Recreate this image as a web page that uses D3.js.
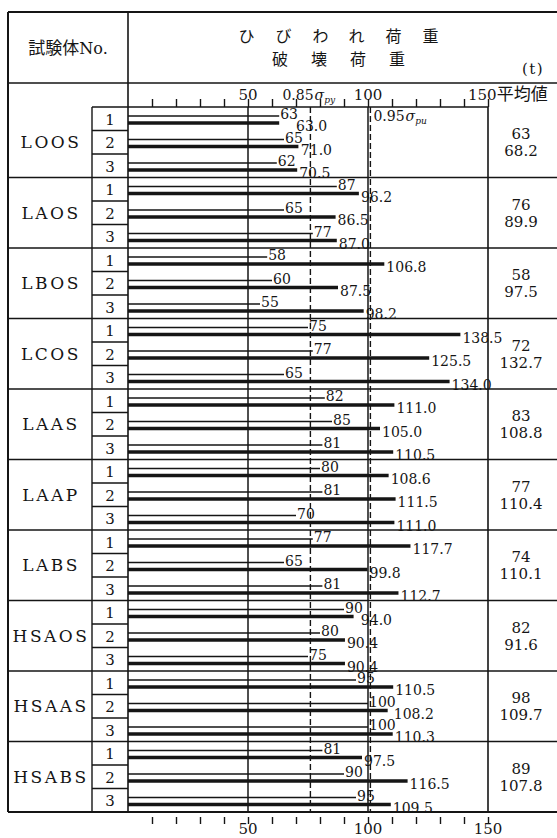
<!DOCTYPE html>
<html><head><meta charset="utf-8">
<script src="https://cdn.jsdelivr.net/npm/d3@7"></script>
<style>
html,body{margin:0;padding:0;background:#fff;}
svg{display:block;}
</style></head><body>
<svg id="chart" width="557" height="838"></svg>
<script>
// Specimens and the three test pieces of each
const specimens = ["LOOS","LAOS","LBOS","LCOS","LAAS","LAAP","LABS","HSAOS","HSAAS","HSABS"];
const testNos = ["1","2","3"];
// Cracking load (t), one value per test piece
const crackLoad = [
  [63, 65, 62], [87, 65, 77], [58, 60, 55], [75, 77, 65], [82, 85, 81],
  [80, 81, 70], [77, 65, 81], [90, 80, 75], [95, 100, 100], [81, 90, 95]
];
// Failure load (t)
const failLoad = [
  [63.0, 71.0, 70.5], [96.2, 86.5, 87.0], [106.8, 87.5, 98.2], [138.5, 125.5, 134.0],
  [111.0, 105.0, 110.5], [108.6, 111.5, 111.0], [117.7, 99.8, 112.7],
  [94.0, 90.4, 90.4], [110.5, 108.2, 110.3], [97.5, 116.5, 109.5]
];
// Mean values per specimen
const crackMean = [63, 76, 58, 72, 83, 77, 74, 82, 98, 89];
const failMean = [68.2, 89.9, 97.5, 132.7, 108.8, 110.4, 110.1, 91.6, 109.7, 107.8];
// Axis ticks and labels (t)
const tickValues = [10, 20, 30, 40, 50, 60, 70, 80, 90, 100, 110, 120, 130, 140, 150];
const tickLabels = [50, 100, 150];
// Solid guide lines and the two stress reference levels
const guideValues = [50, 100];
const refValues = [76, 101];
const refFactors = ["0.85", "0.95"];
const refSubs = ["py", "pu"];

const SERIF = '"DejaVu Serif", "Liberation Serif", serif';
const JP = '"Noto Sans CJK JP", sans-serif';
const INK = "#151515";

const L = 8, R = 557, colNo = 92, col0 = 128, colAvg = 488;
const topY = 12, headY = 83, plotTop = 107, plotBottom = 812;

const svg = d3.select("#chart");
const x = d3.scaleLinear().domain([0, 150]).range([col0, colAvg]);
const yG = d3.scaleBand().domain(specimens).range([plotTop, plotBottom]);
const yS = d3.scaleBand().domain(testNos).range([0, yG.bandwidth()]);

const g = svg.append("g");

function hline(x1, x2, y, w) {
  g.append("line").attr("x1", x1).attr("x2", x2).attr("y1", y).attr("y2", y)
    .attr("stroke", INK).attr("stroke-width", w || 1.5);
}
function vline(xx, y1, y2, w, dash) {
  const ln = g.append("line").attr("x1", xx).attr("x2", xx).attr("y1", y1).attr("y2", y2)
    .attr("stroke", INK).attr("stroke-width", w || 1.5);
  if (dash) ln.attr("stroke-dasharray", dash);
}

// ---- guide lines inside the plot
guideValues.forEach(v => vline(x(v), plotTop, plotBottom, 1.5));
refValues.forEach(v => vline(x(v), plotTop, plotBottom, 1.4, "6,3"));

// ---- bars: thin = cracking load, thick = failure load
specimens.forEach((s, i) => {
  testNos.forEach((n, j) => {
    const y0 = yG(s) + yS(n);
    const yThin = y0 + 9, yThick = y0 + 16;
    g.append("line").attr("x1", x(0)).attr("x2", x(crackLoad[i][j]))
      .attr("y1", yThin).attr("y2", yThin).attr("stroke", INK).attr("stroke-width", 1.4);
    g.append("line").attr("x1", x(0)).attr("x2", x(failLoad[i][j]))
      .attr("y1", yThick).attr("y2", yThick).attr("stroke", INK).attr("stroke-width", 3.4);
    const t1 = g.append("text").attr("x", x(crackLoad[i][j]) + 1).attr("y", yThin + 3)
      .attr("font-family", SERIF).attr("font-size", 14).attr("fill", INK)
      .text(crackLoad[i][j]);
    const thinEnd = x(crackLoad[i][j]) + 1 + t1.node().getComputedTextLength();
    const fx = Math.max(x(failLoad[i][j]) + 2, thinEnd - 2);
    g.append("text").attr("x", fx).attr("y", yThick + 8)
      .attr("font-family", SERIF).attr("font-size", 14).attr("fill", INK)
      .text(d3.format(".1f")(failLoad[i][j]));
  });
});

// ---- table frame
hline(L, R, topY, 2);
hline(L, R, headY, 1.6);
hline(colNo, colAvg, plotTop, 1.6);
vline(L, topY, plotBottom, 2);
vline(col0, topY, plotBottom, 1.6);
vline(colAvg, plotTop, plotBottom, 1.6);
vline(colNo, plotTop, plotBottom, 1.4);
specimens.forEach((s, i) => {
  if (i > 0) hline(L, R, yG(s), 1.6);
  testNos.forEach((n, j) => { if (j > 0) hline(colNo, col0, yG(s) + yS(n), 1.4); });
});
hline(L, R, plotBottom, 2);

// ---- specimen names, test numbers, means
specimens.forEach((s, i) => {
  const cy = yG(s) + yG.bandwidth() / 2;
  g.append("text").attr("x", (L + colNo) / 2 + 1).attr("y", cy + 6)
    .attr("text-anchor", "middle").attr("font-family", SERIF).attr("font-size", 17)
    .attr("letter-spacing", 2.5).attr("fill", INK).text(s);
  testNos.forEach(n => {
    g.append("text").attr("x", (colNo + col0) / 2).attr("y", yG(s) + yS(n) + yS.bandwidth() / 2 + 6)
      .attr("text-anchor", "middle").attr("font-family", SERIF).attr("font-size", 15)
      .attr("fill", INK).text(n);
  });
  g.append("text").attr("x", 521).attr("y", cy - 3)
    .attr("text-anchor", "middle").attr("font-family", SERIF).attr("font-size", 15)
    .attr("fill", INK).text(crackMean[i]);
  g.append("text").attr("x", 521).attr("y", cy + 14)
    .attr("text-anchor", "middle").attr("font-family", SERIF).attr("font-size", 15)
    .attr("fill", INK).text(d3.format(".1f")(failMean[i]));
});

// ---- axes
const axTop = svg.append("g").attr("transform", `translate(0,${plotTop})`)
  .call(d3.axisTop(x).tickValues(tickValues).tickSize(8).tickFormat(""));
axTop.select(".domain").remove();
axTop.selectAll("line").attr("stroke", INK).attr("stroke-width", 1.4);

const axBot = svg.append("g").attr("transform", `translate(0,${plotBottom + 5})`)
  .call(d3.axisBottom(x).tickValues(tickValues).tickSize(7).tickFormat(""));
axBot.select(".domain").remove();
axBot.selectAll("line").attr("stroke", INK).attr("stroke-width", 1.4);

tickLabels.forEach(v => {
  svg.append("text").attr("x", x(v)).attr("y", 834).attr("text-anchor", "middle")
    .attr("font-family", SERIF).attr("font-size", 15).attr("fill", INK).text(v);
});
// top labels
[50, 100].forEach(v => {
  svg.append("text").attr("x", x(v)).attr("y", 100).attr("text-anchor", "middle")
    .attr("font-family", SERIF).attr("font-size", 15).attr("fill", INK).text(v);
});
const t150 = svg.append("text").attr("x", x(150) - 20).attr("y", 100)
  .attr("font-family", SERIF).attr("font-size", 15).attr("fill", INK);
t150.append("tspan").text(tickLabels[2]);
t150.append("tspan").attr("font-family", JP).attr("font-size", 17).text("平均値");

function sigmaLabel(xx, yy, k, size) {
  const t = svg.append("text").attr("x", xx).attr("y", yy)
    .attr("font-family", SERIF).attr("font-size", size).attr("fill", INK);
  t.append("tspan").text(refFactors[k]);
  t.append("tspan").attr("font-style", "italic").attr("dx", 1).text("σ");
  t.append("tspan").attr("font-style", "italic").attr("font-size", size * 0.65)
    .attr("dy", 3).text(refSubs[k]);
  return t;
}
sigmaLabel(x(refValues[0]) - 28, 100, 0, 14);
sigmaLabel(x(refValues[1]) + 3, yG(specimens[0]) + 14, 1, 14);

// ---- header
svg.append("text").attr("x", (L + col0) / 2).attr("y", 54).attr("text-anchor", "middle")
  .attr("font-family", JP).attr("font-size", 17).attr("fill", INK)
  .call(t => {
    t.append("tspan").text("試験体");
    t.append("tspan").attr("font-family", SERIF).attr("font-size", 16).text("No.");
  });
svg.append("text").attr("x", 349).attr("y", 42).attr("text-anchor", "middle")
  .attr("font-family", JP).attr("font-size", 16).attr("letter-spacing", 21).attr("fill", INK)
  .text("ひびわれ荷重");
svg.append("text").attr("x", 350).attr("y", 65).attr("text-anchor", "middle")
  .attr("font-family", JP).attr("font-size", 16).attr("letter-spacing", 23).attr("fill", INK)
  .text("破壊荷重");
svg.append("text").attr("x", 533).attr("y", 74).attr("text-anchor", "middle")
  .attr("font-family", SERIF).attr("font-size", 15).attr("letter-spacing", 1.5).attr("fill", INK)
  .text("(t)");
</script>
</body></html>
